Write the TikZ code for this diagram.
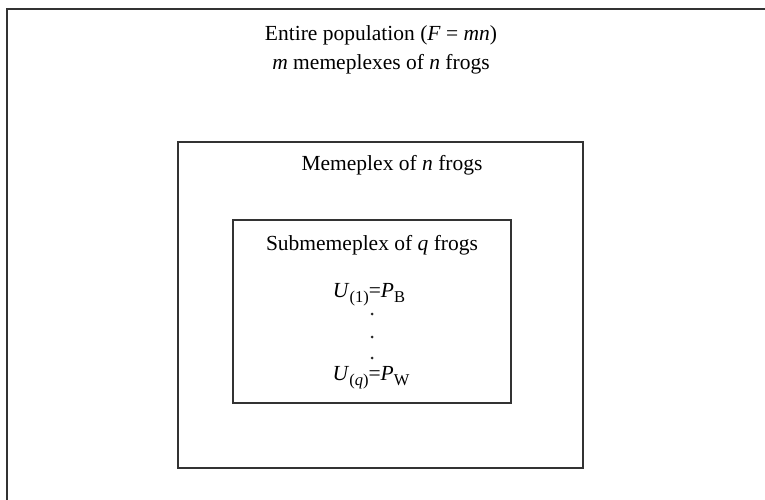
\documentclass[tikz,border=0pt]{standalone}
\usepackage{fontspec}
\setmainfont{Liberation Serif}
\newcommand{\lowsub}[1]{\raisebox{-5pt}{\fontsize{16.5}{18}\selectfont #1}}
\begin{document}
\begin{tikzpicture}[x=1pt,y=-1pt,
  frame/.style={draw=black!80, line width=1.5pt},
  boxnode/.style={draw=black!80, line width=1.3pt, inner sep=0pt},
  dotnode/.style={circle, fill=black!85, minimum size=3pt, inner sep=0pt},
  lbl/.style={font=\fontsize{21.5}{24}\selectfont, anchor=base, inner sep=0pt}]
\useasboundingbox (0,0) rectangle (765,500);
\clip (0,0) rectangle (765,500);
\draw[frame] (7,520) -- (7,9) -- (790,9);
\node[boxnode, minimum width=405pt, minimum height=326pt] (mid) at (380.5,305) {};
\node[boxnode, minimum width=278pt, minimum height=183pt] (inner) at (372,311.5) {};
\node[lbl] (t1) at (381,41) {Entire population (\textit{F} = \textit{mn})};
\node[lbl] (t2) at (381,70) {\textit{m} memeplexes of \textit{n} frogs};
\node[lbl] (t3) at (392,170) {Memeplex of \textit{n} frogs};
\node[lbl] (t4) at (372,250) {Submemeplex of \textit{q} frogs};
\node[lbl] (u1) at (369,297) {\textit{U}\lowsub{(1)}=\textit{P}\lowsub{B}};
\node[dotnode] (d1) at (372,314) {};
\node[dotnode] (d2) at (372,337) {};
\node[dotnode] (d3) at (372,358) {};
\node[lbl] (uq) at (371,380) {\textit{U}\lowsub{(\textit{q})}=\textit{P}\lowsub{W}};
\end{tikzpicture}
\end{document}
